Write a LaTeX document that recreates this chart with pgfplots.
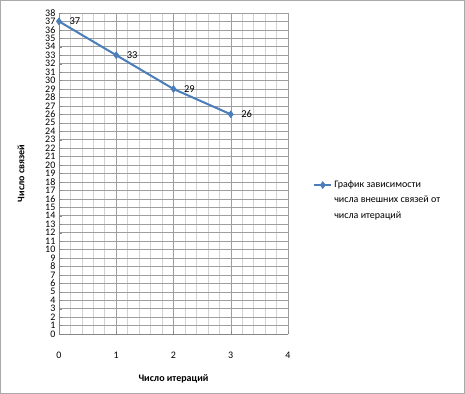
\documentclass[border=0pt]{standalone}
\usepackage{pgfplots}
\pgfplotsset{compat=1.18}
\usepackage{fontspec}
\setmainfont{Carlito}
\definecolor{ser}{RGB}{74,126,187}
\definecolor{majg}{RGB}{134,134,134}
\definecolor{ming}{RGB}{210,210,210}
\begin{document}
\begin{tikzpicture}
\draw[majg!70,line width=0.8pt] (0.5pt,0.5pt) rectangle (464.5pt,393.5pt);
\begin{axis}[
  at={(59pt,60pt)}, anchor=south west,
  scale only axis, width=229pt, height=321pt,
  xmin=0, xmax=4, ymin=0, ymax=38,
  xtick={0,1,2,3,4}, ytick={0,1,...,38},
  minor x tick num=4,
  grid=both,
  major grid style={majg!80,line width=0.5pt},
  minor grid style={ming,line width=0.5pt},
  axis line style={majg},
  axis x line*=bottom, axis y line*=left,
  tick style={majg},
  major tick length=3pt, minor tick length=0pt,
  x tick label style={yshift=-14pt},
  y tick label style={inner ysep=0pt},
  ticklabel style={font=\fontsize{10}{10}\selectfont, text=black},
  /pgf/number format/assume math mode=true,
  xlabel={\textbf{Число итераций}},
  ylabel={\textbf{Число связей}},
  xlabel style={font=\fontsize{10}{12}\selectfont, yshift=-10pt},
  ylabel style={font=\fontsize{10}{12}\selectfont, yshift=14pt},
  legend style={at={(1.096,0.49)}, anchor=north west, draw=none, fill=none,
    font=\fontsize{10}{12}\selectfont, row sep=3pt},
  legend cell align=left,
  clip=false,
]
\addplot[color=ser, line width=2pt, mark=diamond*, mark size=3.5pt,
  mark options={fill=ser, line width=0.5pt},
  nodes near coords, point meta=explicit symbolic,
  every node near coord/.style={anchor=west, xshift=7pt, font=\fontsize{10.5}{10}\selectfont, text=black}]
  coordinates {(0,37)[37] (1,33)[33] (2,29)[29] (3,26)[26]};
\addlegendentry{График зависимости}
\addlegendimage{empty legend}
\addlegendentry{числа внешних связей от}
\addlegendimage{empty legend}
\addlegendentry{числа итераций}
\end{axis}
\end{tikzpicture}
\end{document}
